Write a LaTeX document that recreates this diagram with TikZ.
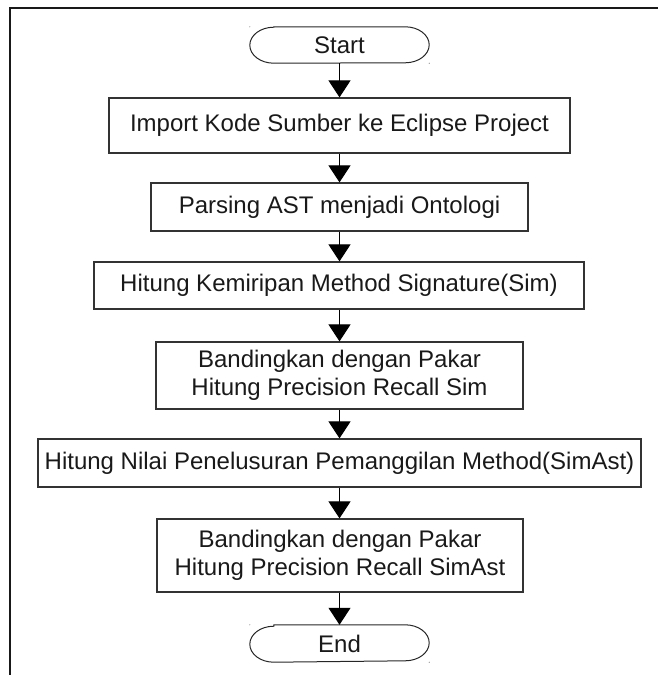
\documentclass[tikz,border=0pt]{standalone}
\usepackage{fontspec}
\setmainfont{Liberation Sans}
\usetikzlibrary{arrows.meta}

\tikzset{
  stepbox/.style={draw=black!80, line width=1.2pt, rectangle, inner sep=0pt,
    align=center, font=\fontsize{24}{28}\selectfont, text=black!90},
  termbox/.style={inner sep=0pt, font=\fontsize{24}{28}\selectfont, text=black!90,
    minimum width=179pt, minimum height=36pt},
  termline/.style={draw=black!85, line width=1pt},
  flow/.style={draw=black, line width=1pt, -{Triangle[length=17pt,width=22pt]}},
  handle/.style={fill=black!45, draw=none},
  frame/.style={draw=black!90, line width=1.4pt}
}

% terminal outline: flat top/bottom with elliptical ends
\newcommand{\terminalpath}[1]{%
  \draw[termline] ([xshift=24pt]#1.north west) -- ([xshift=-24pt]#1.north east)
    arc[start angle=90, end angle=-90, x radius=24pt, y radius=18pt]
    -- ([xshift=24pt]#1.south west)
    arc[start angle=270, end angle=90, x radius=24pt, y radius=18pt] -- cycle;
  \fill[handle] (#1.north west) circle (0.6pt);
  \fill[handle] (#1.south east) circle (0.6pt);
}

\begin{document}
\begin{tikzpicture}[x=1pt, y=-1pt]
  \useasboundingbox (0,0) rectangle (658,675);

  % page frame (top and left edges)
  \coordinate (ftr) at (658,8);
  \coordinate (ftl) at (10,8);
  \coordinate (fbl) at (10,675);
  \draw[frame] (ftr) -- (ftl) -- (fbl);

  % steps
  \node[termbox] (start) at (339.5,45) {Start};
  \terminalpath{start}

  \node[stepbox, minimum width=461pt, minimum height=55pt] (import) at (339.5,125.5)
    {Import Kode Sumber ke Eclipse Project};
  \node[stepbox, minimum width=377pt, minimum height=48pt] (parse) at (339.5,207)
    {Parsing AST menjadi Ontologi};
  \node[stepbox, minimum width=490pt, minimum height=47pt] (sim) at (339,285.5)
    {Hitung Kemiripan Method Signature(Sim)};
  \node[stepbox, minimum width=367pt, minimum height=67pt] (cmp1) at (339.5,375.5)
    {Bandingkan dengan Pakar\\Hitung Precision Recall Sim};
  \node[stepbox, minimum width=603pt, minimum height=48pt] (simast) at (339.5,463)
    {Hitung Nilai Penelusuran Pemanggilan Method(SimAst)};
  \node[stepbox, minimum width=366pt, minimum height=73pt] (cmp2) at (340,555.5)
    {Bandingkan dengan Pakar\\Hitung Precision Recall SimAst};

  \node[termbox, minimum height=37pt] (end) at (339.5,643.5) {End};
  \terminalpath{end}

  % flow connectors
  \draw[flow] (start.south) -- (import.north -| start.south);
  \draw[flow] (import.south -| start.south) -- (parse.north -| start.south);
  \draw[flow] (parse.south -| start.south) -- (sim.north -| start.south);
  \draw[flow] (sim.south -| start.south) -- (cmp1.north -| start.south);
  \draw[flow] (cmp1.south -| start.south) -- (simast.north -| start.south);
  \draw[flow] (simast.south -| start.south) -- (cmp2.north -| start.south);
  \draw[flow] (cmp2.south -| start.south) -- (end.north);
\end{tikzpicture}
\end{document}
